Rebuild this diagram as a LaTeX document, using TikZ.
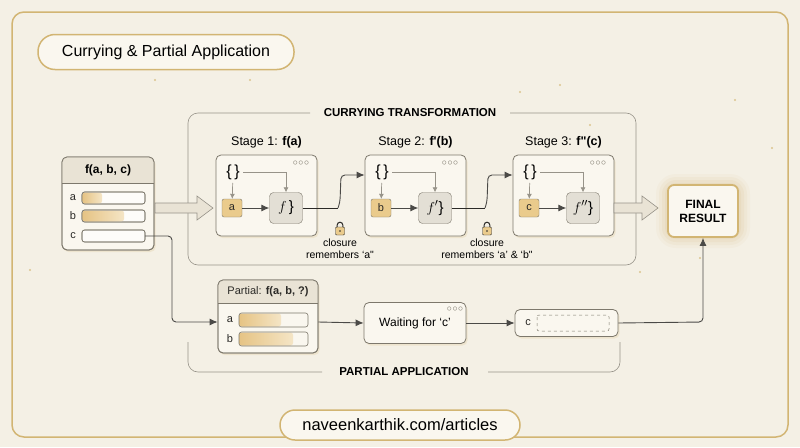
\documentclass[tikz,border=0pt]{standalone}
\usepackage{fontspec}
\setmainfont{Liberation Sans}
\usetikzlibrary{arrows.meta,shadows}
\definecolor{bg}{HTML}{F4F0E5}
\definecolor{gold}{HTML}{D2B573}
\definecolor{boxf}{HTML}{FAF7EF}
\definecolor{ln}{HTML}{7D786C}
\definecolor{hdr}{HTML}{E9E3D5}
\definecolor{var}{HTML}{EACB8C}
\definecolor{fbox}{HTML}{E3DFD5}
\definecolor{txt}{HTML}{2B2A27}
\begin{document}
\begin{tikzpicture}[x=1pt,y=-1pt,font=\fontsize{11}{13}\selectfont\color{txt},
 card/.style={draw=ln,line width=0.8pt,fill=boxf,rounded corners=5pt,drop shadow={shadow xshift=1.5pt,shadow yshift=-2pt,fill=gold!50,opacity=0.5}},
 grp/.style={draw=ln!80,line width=0.6pt,rounded corners=10pt},
 conn/.style={draw=txt!85,line width=0.9pt,-{Latex[length=8pt,width=7pt]}},
 thin/.style={draw=ln!80,line width=0.7pt,-{Latex[length=5pt,width=5pt]}},
 var/.style={draw=ln,fill=var,rounded corners=2pt,minimum width=20pt,minimum height=18pt,inner sep=0pt},
 fn/.style={draw=ln,fill=fbox,rounded corners=4pt,minimum width=33pt,minimum height=31pt,inner sep=0pt,font=\fontsize{15}{16}\selectfont},
 big/.style={draw=ln!80,fill=hdr,line width=0.6pt},
 bar/.style={draw=ln,rounded corners=2.5pt,line width=0.6pt,fill=white!60!boxf},
 lbl/.style={font=\fontsize{11.5}{13}\selectfont\bfseries},
 dots/.style={font=\fontsize{10}{10}\selectfont\color{ln}}]
\fill[bg] (0,0) rectangle (800,447);
\draw[gold,line width=1.5pt,rounded corners=12pt] (12,12) rectangle (788,437);
\foreach \p in {(110,45),(155,80),(250,80),(590,125),(735,100),(772,148),(700,258),(640,272),(520,92),(420,415),(560,85),(30,270)}
  \fill[gold!80] \p circle (1.2pt);
% title
\node[draw=gold,line width=1.5pt,fill=boxf,rounded corners=17pt,minimum width=256pt,minimum height=35pt,font=\fontsize{16}{18}\selectfont] (title) at (166,52) {Currying \& Partial Application};
% footer
\node[draw=gold,line width=1.5pt,fill=boxf,rounded corners=15pt,minimum width=240pt,minimum height=30pt,font=\fontsize{16.5}{18}\selectfont] (foot) at (400,425) {naveenkarthik.com/articles};
% currying group
\draw[grp] (310,113) -- (188,113) -- (188,265) -- (636,265) -- (636,113) -- (510,113);
\node[lbl] (cl) at (410,113) {CURRYING TRANSFORMATION};
% partial group
\draw[grp] (188,342) -- (188,372) -- (322,372);
\draw[grp] (488,372) -- (620,372) -- (620,342);
\node[lbl] (pl) at (404,372) {PARTIAL APPLICATION};
% input
\node[card,minimum width=92pt,minimum height=93pt] (in) at (108,203.5) {};
\begin{scope}
\clip[rounded corners=5pt] (62,157) rectangle (154,250);
\fill[hdr] (62,157) rectangle (154,183);
\end{scope}
\draw[ln,line width=0.8pt,rounded corners=5pt] (62,157) rectangle (154,250);
\draw[ln,line width=0.6pt] (62,183) -- (154,183);
\node[lbl,font=\fontsize{12}{13}\selectfont\bfseries] at (108,170) {f(a, b, c)};
\foreach \n/\y/\w in {a/198/20,b/216/42,c/236/0}{
  \node at (73,\y) {\n};
  \draw[bar] (82,\y-6) rectangle (145,\y+6);
  \ifnum\w>0 \shade[left color=var!90!brown,right color=var!50,rounded corners=2.5pt] (82.5,\y-5.5) rectangle (82+\w,\y+5.5);\fi
  \draw[ln,rounded corners=2.5pt,line width=0.6pt] (82,\y-6) rectangle (145,\y+6);
}
\coordinate (inr) at (154,208);
\coordinate (inc) at (145,236);
% stages
\foreach \i/\x/\t/\v/\f in {1/216/{Stage 1: \textbf{f(a)}}/a/{$f$\,\}},2/365/{Stage 2: \textbf{f\textquotesingle(b)}}/b/{$f'$\}},3/513/{Stage 3: \textbf{f\textquotedbl(c)}}/c/{$f''$\}}}{
  \node[card,minimum width=101pt,minimum height=81pt] (s\i) at (\x+50.5,195.5) {};
  \node[font=\fontsize{12.5}{14}\selectfont] (st\i) at (\x+50.5,142) {\t};
  \node[dots] at (\x+85,163) {$\circ\!\circ\!\circ$};
  \node[font=\fontsize{16}{17}\selectfont] (br\i) at (\x+17,172) {\{\,\}};
  \node[var] (v\i) at (\x+16,208) {\v};
  \node[fn] (f\i) at (\x+70,208) {\f};
  \draw[thin] (br\i) -- (v\i);
  \draw[thin] (br\i.east) -| (f\i.north);
  \draw[conn] (v\i) -- (f\i);
}
% closures
\foreach \i/\x/\j/\t in {1/340/2/{remembers \textquoteleft a\textquotedbl},2/487/3/{remembers \textquoteleft a\textquoteright\ \& \textquoteleft b\textquotedbl}}{
  \coordinate (k\i) at (\x-2,208);
  \draw[txt,line width=0.9pt] (f\i.east) -- (k\i);
  \draw[conn,rounded corners=4pt] (k\i) -- (\x,202) -- (\x+1,175) -- (s\j.west |- 0,175);
  \node[draw=txt,fill=var,minimum width=9pt,minimum height=8pt,inner sep=0pt,rounded corners=1pt] (lk\i) at (\x,231) {};
  \draw[txt,line width=1pt] (\x-2.8,227) -- (\x-2.8,225) arc[start angle=180,end angle=360,radius=2.8] -- (\x+2.8,227);
  \fill[txt] (\x,231) circle (0.9pt);
  \node[align=center,font=\fontsize{10.5}{12}\selectfont] at (\x,249) {closure\\\t};
}
% big arrows
\draw[big] (155,203) -- (197,203) -- (197,196) -- (213,208) -- (197,220) -- (197,213) -- (155,213) -- cycle;
\draw[big] (614,203) -- (642,203) -- (642,196) -- (658,208) -- (642,220) -- (642,213) -- (614,213) -- cycle;
% final
\foreach \r/\o in {12/0.06,9/0.08,6/0.1,3/0.12}
  \fill[gold,opacity=\o,rounded corners=8pt+\r] (668-\r,186-\r) rectangle (738+\r,236+\r);
\node[draw=gold,line width=1.8pt,fill=boxf,rounded corners=6pt,minimum width=70pt,minimum height=52pt,align=center,font=\fontsize{12}{14}\selectfont\bfseries] (fin) at (703,211) {FINAL\\RESULT};
% partial
\node[card,minimum width=100pt,minimum height=73pt] (pa) at (268,316.5) {};
\begin{scope}
\clip[rounded corners=5pt] (218,280) rectangle (318,353);
\fill[hdr] (218,280) rectangle (318,303);
\end{scope}
\draw[ln,line width=0.8pt,rounded corners=5pt] (218,280) rectangle (318,353);
\draw[ln,line width=0.6pt] (218,303) -- (318,303);
\node at (268,292) {Partial: \textbf{f(a, b, ?)}};
\foreach \n/\y/\w in {a/320/42,b/339/54}{
  \node at (230,\y) {\n};
  \shade[left color=var!90!brown,right color=var!50,rounded corners=2.5pt] (239,\y-6.5) rectangle (239+\w,\y+6.5);
  \draw[ln,rounded corners=2.5pt,line width=0.6pt] (239,\y-7) rectangle (308,\y+7);
}
\node[card,minimum width=102pt,minimum height=41pt,font=\fontsize{12}{14}\selectfont] (wt) at (415,323) {Waiting for \textquoteleft c\textquoteright};
\node[dots] at (455,309) {$\circ\!\circ\!\circ$};
\node[card,minimum width=103pt,minimum height=27pt] (cb) at (566.5,323) {};
\node at (528,323) {c};
\draw[ln,dashed,rounded corners=2pt,line width=0.5pt] (537,315) rectangle (609,331);
% connectors
\draw[conn,rounded corners=4pt] (inc) -- (172,236) -- (172,322) -- (pa.west |- 0,322);
\draw[conn] (pa.east |- 0,322) -- (wt.west);
\draw[conn] (wt.east) -- (cb.west);
\draw[conn,rounded corners=4pt] (cb.east) -- (703,322) -- (fin.south);
\end{tikzpicture}
\end{document}
